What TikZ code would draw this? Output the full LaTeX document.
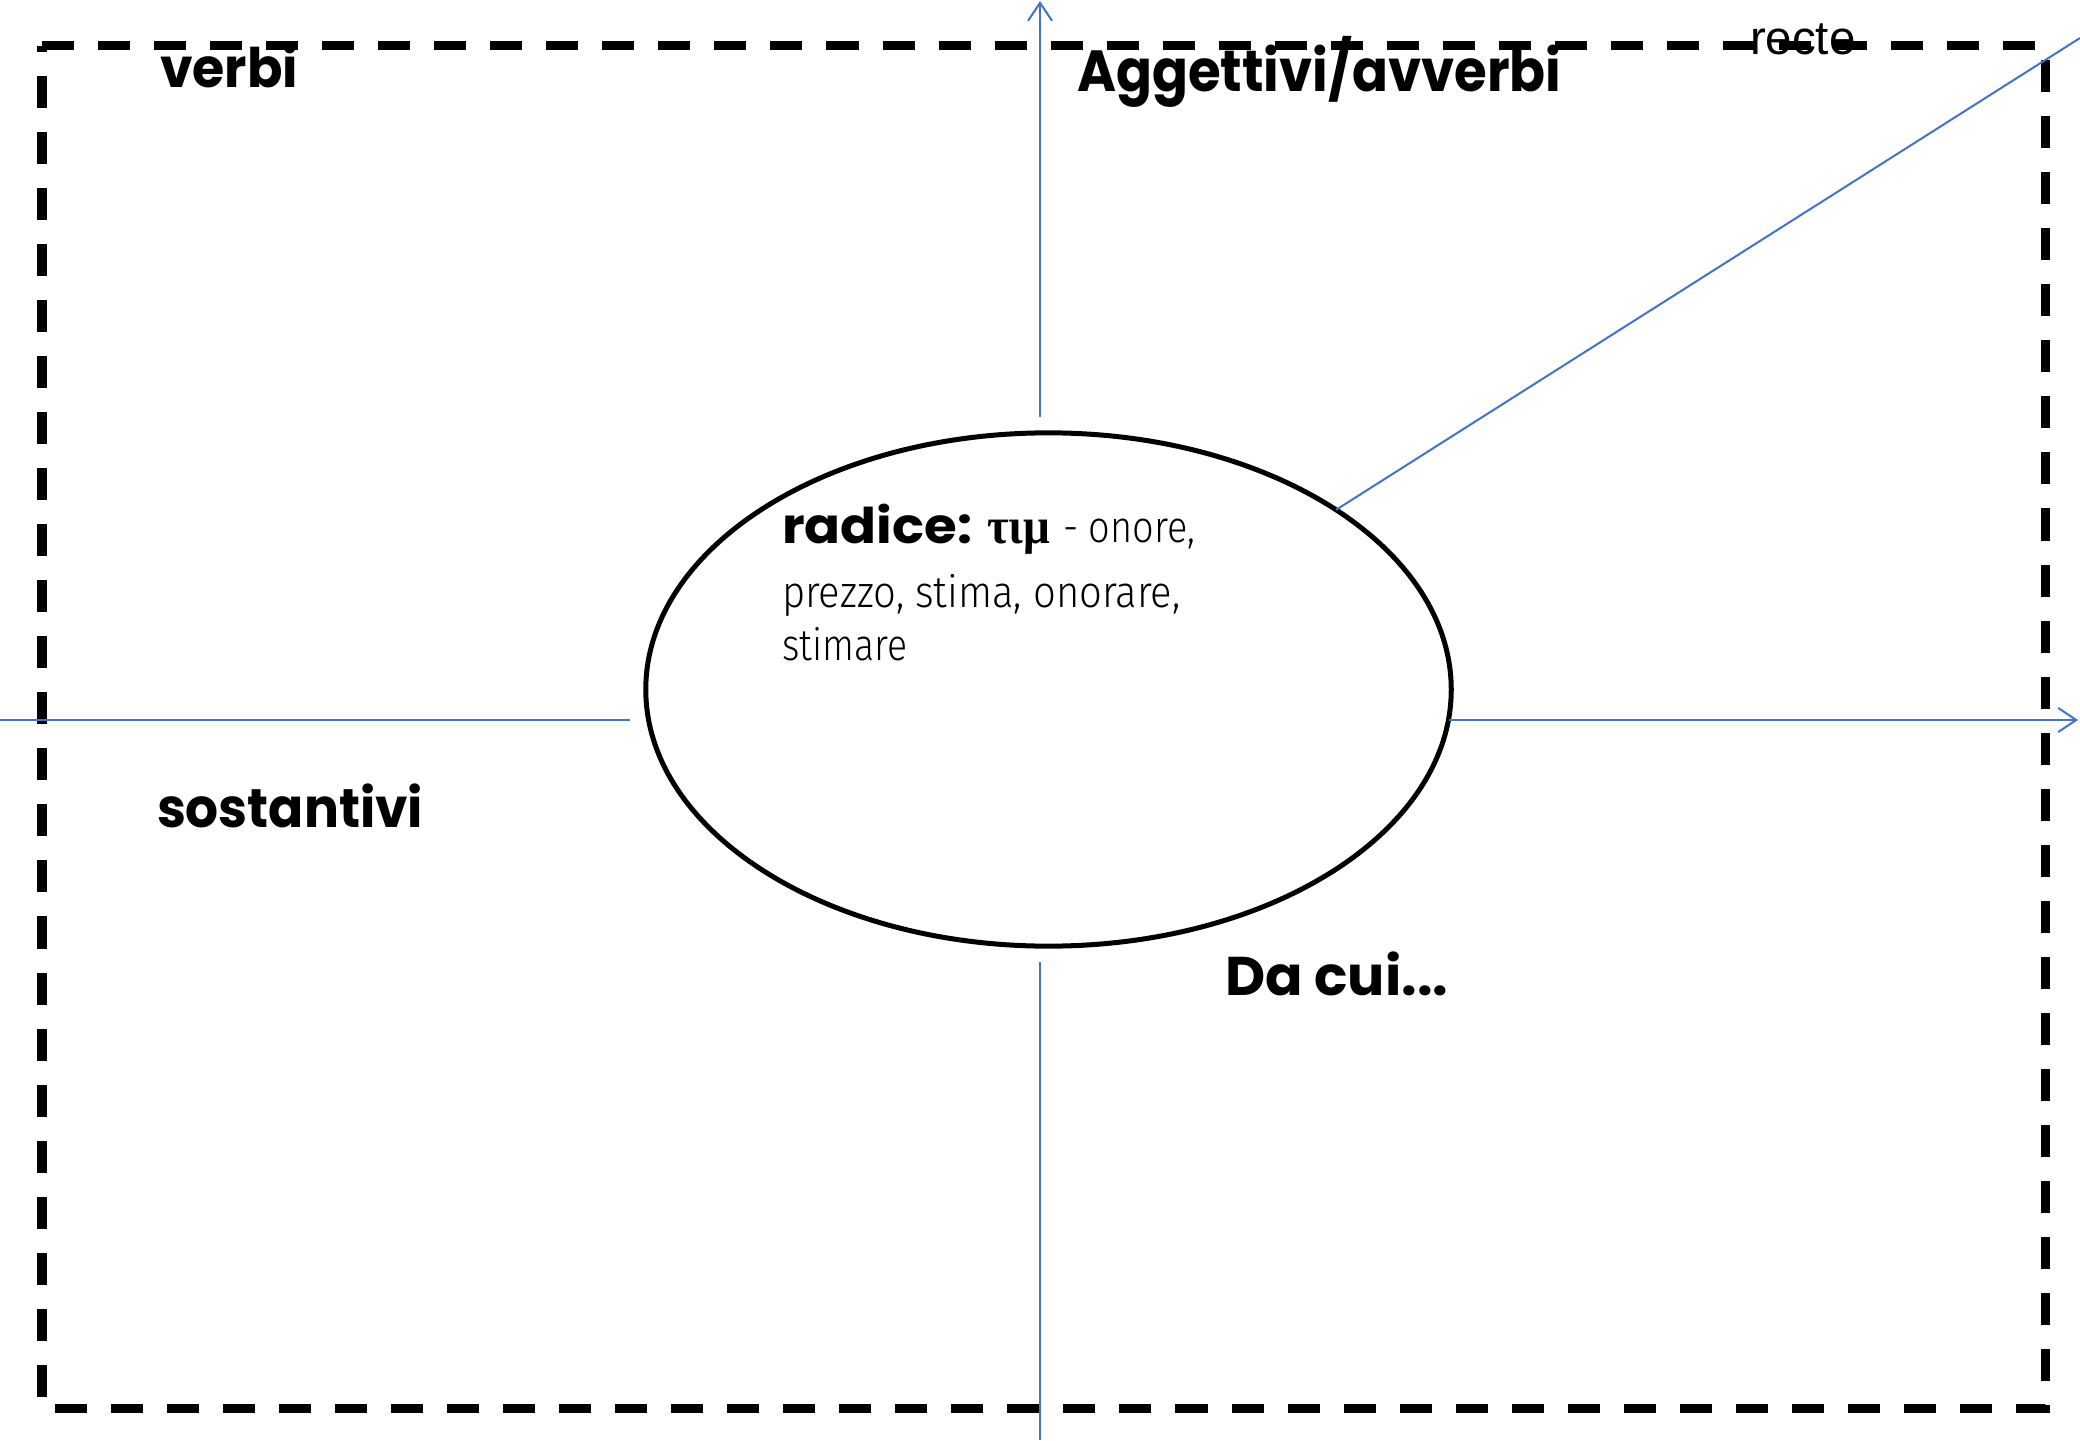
\documentclass[tikz,border=0pt]{standalone}
\usepackage{fontspec}
\usetikzlibrary{arrows.meta,shapes.geometric}
\newfontfamily\handfont{Poppins}
\newfontfamily\thinfont{Fira Sans Light}
\newfontfamily\greekfont{Liberation Serif}
\newfontfamily\arialfont{Liberation Sans}
\newcommand\fitto[2]{\resizebox{#1}{\height}{#2}}
\definecolor{axisblue}{RGB}{68,114,196}
\tikzset{
  every node/.style={inner sep=0pt, outer sep=0pt},
  frame/.style={line width=0.09cm, dash pattern=on 0.32cm off 0.24cm},
  axis/.style={draw=axisblue, line width=0.02cm},
  axisarrow/.style={axis, -{Straight Barb[length=0.18cm, width=0.24cm, line width=0.02cm]}},
  handlabel/.style={anchor=base west, font=\handfont\bfseries\fontsize{15.5pt}{18pt}\selectfont},
  thinlabel/.style={anchor=base west, font=\thinfont\fontsize{12.5pt}{15pt}\selectfont},
  root/.style={ellipse, draw, line width=0.05cm, minimum width=8.05cm, minimum height=5.13cm}
}
\begin{document}
\begin{tikzpicture}[x=0.01cm, y=-0.01cm]
\useasboundingbox (0,0) rectangle (2080,1440);
% dashed frame
\draw[frame] (42,46) -- (2045,46) -- (2045,1408) -- (42,1408) -- cycle;
% central ellipse
\node[root] (e) at (1048.5,689.5) {};
% axes
\coordinate (vtopA) at (1040,417);
\coordinate (vtopB) at (1040,1);
\coordinate (vbotA) at (1040,962);
\coordinate (vbotB) at (1040,1440);
\coordinate (hleftA) at (0,720);
\coordinate (hleftB) at (630,720);
\coordinate (hrightA) at (1449,720);
\coordinate (hrightB) at (2078,720);
\coordinate (diagend) at (2080,38);
\draw[axisarrow] (vtopA) -- (vtopB);
\draw[axis] (vbotA) -- (vbotB);
\draw[axis] (hleftA) -- (hleftB);
\draw[axisarrow] (hrightA) -- (hrightB);
\draw[axis] (e.32.4) -- (diagend);
% labels
\node[handlabel] (verbi) at (160,88) {\fitto{1.38cm}{verbi}};
\node[handlabel, font=\handfont\bfseries\fontsize{16.5pt}{19pt}\selectfont] (agg) at (1077,92) {\fitto{4.84cm}{Aggettivi/avverbi}};
\node[handlabel] (sost) at (157,827) {\fitto{2.66cm}{sostantivi}};
\node[handlabel] (dacui) at (1225,995) {\fitto{2.23cm}{Da cui...}};
\node[anchor=base west, font=\arialfont\fontsize{13.5pt}{16pt}\selectfont] (recte) at (1750,55) {recte};
% text inside ellipse
\node[anchor=base west, font=\handfont\bfseries\fontsize{14pt}{17pt}\selectfont] (radice) at (782,543) {\fitto{1.90cm}{radice:}};
\node[anchor=base west, font=\greekfont\bfseries\fontsize{14.5pt}{17pt}\selectfont] (greek) at (987,543) {\fitto{0.63cm}{τιμ}};
\node[thinlabel] (onore) at (1063,543) {\fitto{1.32cm}{- onore,}};
\node[thinlabel] (line2) at (782,607) {\fitto{3.98cm}{prezzo, stima, onorare,}};
\node[thinlabel] (line3) at (782,660) {\fitto{1.25cm}{stimare}};
\end{tikzpicture}
\end{document}
